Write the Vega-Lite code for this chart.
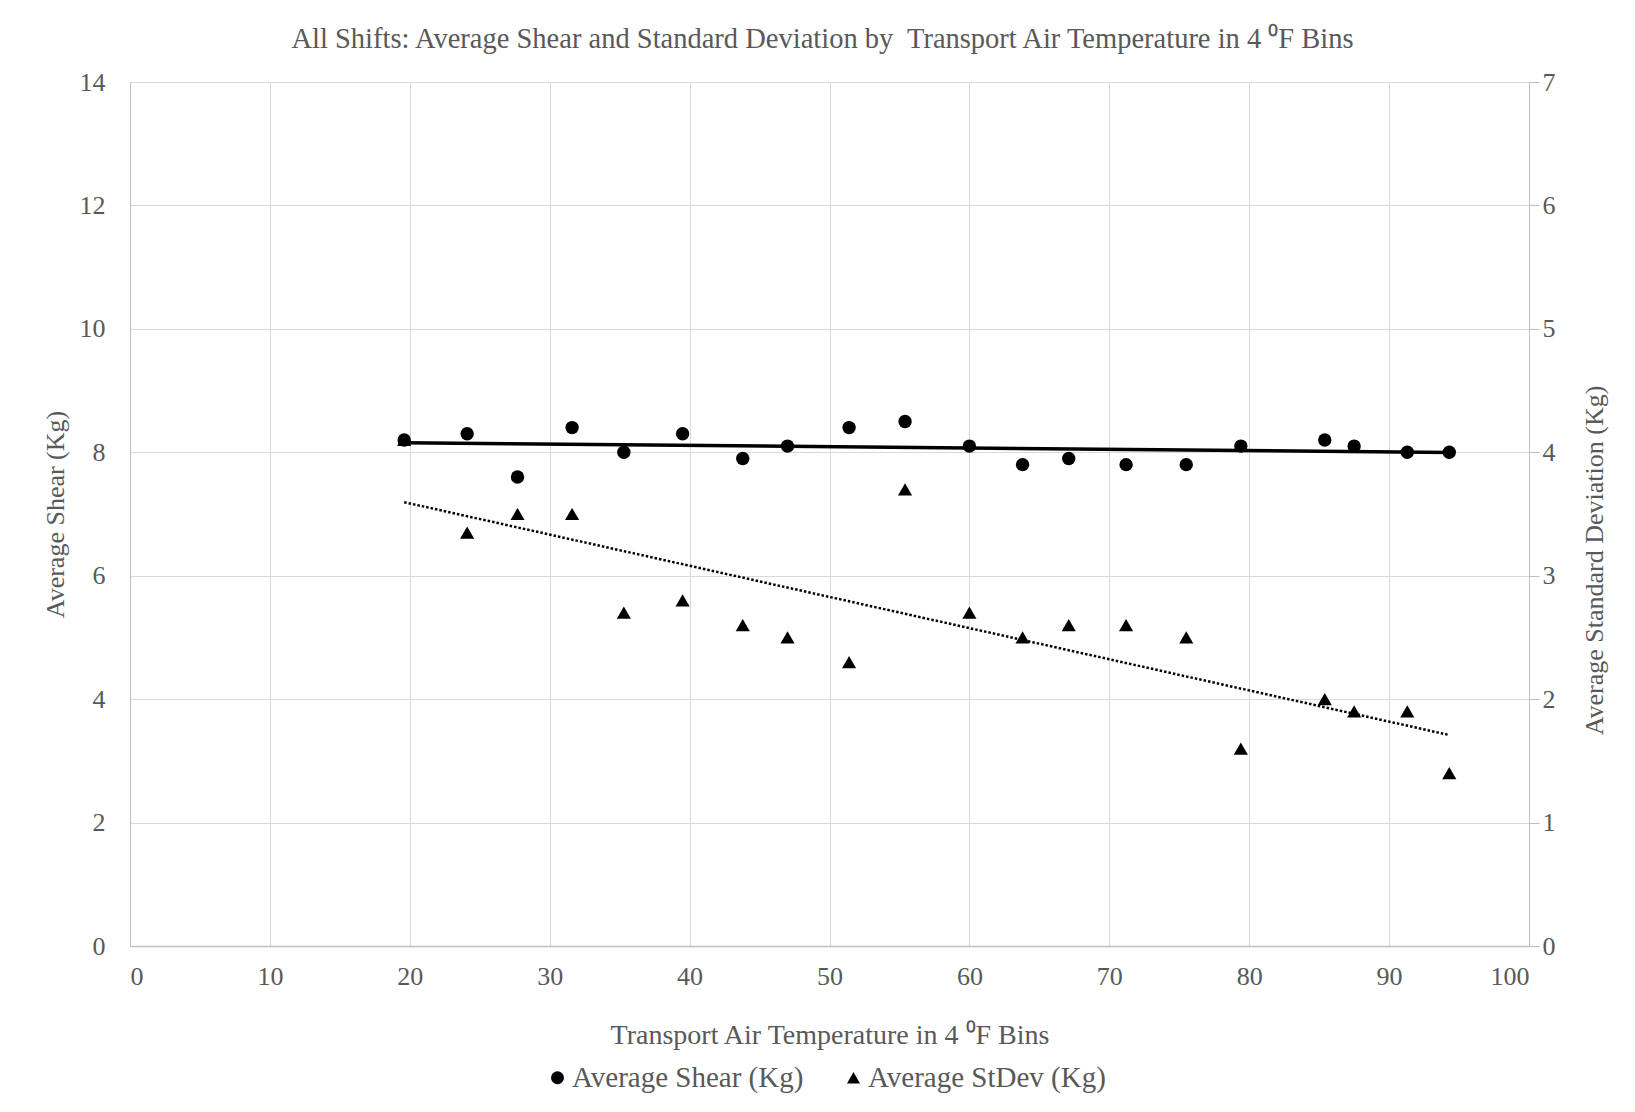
{
  "$schema": "https://vega.github.io/schema/vega-lite/v6.json",
  "width": 1399,
  "height": 864,
  "autosize": {"type": "none"},
  "padding": {"left": 130, "top": 82, "right": 106, "bottom": 166},
  "background": "white",
  "title": {
    "text": "All Shifts: Average Shear and Standard Deviation by\u00a0 Transport Air Temperature in 4 ⁰F Bins",
    "font": "Liberation Serif",
    "fontSize": 28.5,
    "fontWeight": "normal",
    "color": "#595959",
    "anchor": "middle",
    "offset": 16,
    "dx": -7
  },
  "data": {
    "values": [
      {"temp": 19.6, "shear": 8.2, "stdev": 4.1},
      {"temp": 24.1, "shear": 8.3, "stdev": 3.35},
      {"temp": 27.7, "shear": 7.6, "stdev": 3.5},
      {"temp": 31.6, "shear": 8.4, "stdev": 3.5},
      {"temp": 35.3, "shear": 8.0, "stdev": 2.7},
      {"temp": 39.5, "shear": 8.3, "stdev": 2.8},
      {"temp": 43.8, "shear": 7.9, "stdev": 2.6},
      {"temp": 47.0, "shear": 8.1, "stdev": 2.5},
      {"temp": 51.4, "shear": 8.4, "stdev": 2.3},
      {"temp": 55.4, "shear": 8.5, "stdev": 3.7},
      {"temp": 60.0, "shear": 8.1, "stdev": 2.7},
      {"temp": 63.8, "shear": 7.8, "stdev": 2.5},
      {"temp": 67.1, "shear": 7.9, "stdev": 2.6},
      {"temp": 71.2, "shear": 7.8, "stdev": 2.6},
      {"temp": 75.5, "shear": 7.8, "stdev": 2.5},
      {"temp": 79.4, "shear": 8.1, "stdev": 1.6},
      {"temp": 85.4, "shear": 8.2, "stdev": 2.0},
      {"temp": 87.5, "shear": 8.1, "stdev": 1.9},
      {"temp": 91.3, "shear": 8.0, "stdev": 1.9},
      {"temp": 94.3, "shear": 8.0, "stdev": 1.4}
    ]
  },
  "encoding": {
    "x": {
      "field": "temp",
      "type": "quantitative",
      "scale": {"domain": [0, 100], "nice": false, "zero": false},
      "axis": {
        "title": "Transport Air Temperature in 4 ⁰F Bins",
        "titleFontSize": 28,
        "values": [0, 10, 20, 30, 40, 50, 60, 70, 80, 90, 100],
        "ticks": false,
        "labelPadding": 17,
        "titlePadding": 32,
        "domainColor": "#bfbfbf",
        "domainWidth": 1.5,
        "gridColor": "#d9d9d9",
        "gridWidth": 1
      }
    }
  },
  "layer": [
    {
      "encoding": {
        "y": {
          "field": "shear",
          "type": "quantitative",
          "scale": {"domain": [0, 14], "nice": false},
          "axis": {
            "title": "Average Shear (Kg)",
            "orient": "left",
            "values": [0, 2, 4, 6, 8, 10, 12, 14],
            "ticks": false,
            "labelPadding": 25,
            "titlePadding": 11,
            "domainColor": "#bfbfbf",
            "gridColor": "#d9d9d9",
            "gridWidth": 1
          }
        }
      },
      "layer": [
        {
          "mark": {"type": "point", "filled": true, "color": "black", "size": 180, "opacity": 1},
          "encoding": {
            "shape": {
              "datum": "Average Shear (Kg)",
              "type": "nominal",
              "scale": {
                "domain": ["Average Shear (Kg)", "Average StDev (Kg)"],
                "range": ["circle", "triangle-up"]
              },
              "legend": {
                "title": null,
                "orient": "none",
                "direction": "horizontal",
                "legendX": 413,
                "legendY": 981,
                "symbolFillColor": "black",
                "symbolStrokeColor": "black",
                "symbolStrokeWidth": 0,
                "symbolSize": 170,
                "symbolOpacity": 1,
                "labelFont": "Liberation Serif",
                "labelFontSize": 29,
                "labelColor": "#595959",
                "labelLimit": 0,
                "labelOffset": 0,
                "columnPadding": 35,
                "symbolOffset": 0
              }
            }
          }
        },
        {
          "transform": [{"regression": "shear", "on": "temp"}],
          "mark": {"type": "line", "color": "black", "strokeWidth": 3.5},
          "encoding": {}
        }
      ]
    },
    {
      "encoding": {
        "y": {
          "field": "stdev",
          "type": "quantitative",
          "scale": {"domain": [0, 7], "nice": false},
          "axis": {
            "title": "Average Standard Deviation (Kg)",
            "orient": "right",
            "titleAngle": 270,
            "titleY": 478,
            "values": [0, 1, 2, 3, 4, 5, 6, 7],
            "grid": false,
            "ticks": true,
            "tickSize": 10,
            "tickColor": "#bfbfbf",
            "labelPadding": 3,
            "titlePadding": 52,
            "domainColor": "#bfbfbf"
          }
        }
      },
      "layer": [
        {
          "mark": {"type": "point", "filled": true, "color": "black", "size": 200, "opacity": 1},
          "encoding": {
            "shape": {"datum": "Average StDev (Kg)", "type": "nominal"}
          }
        },
        {
          "transform": [{"regression": "stdev", "on": "temp"}],
          "mark": {"type": "line", "color": "black", "strokeWidth": 2.5, "strokeDash": [2.5, 2], "strokeCap": "butt"},
          "encoding": {}
        }
      ]
    }
  ],
  "resolve": {"scale": {"y": "independent"}},
  "config": {
    "view": {"stroke": null},
    "axis": {
      "labelFont": "Liberation Serif",
      "labelFontSize": 26,
      "labelColor": "#595959",
      "titleFont": "Liberation Serif",
      "titleFontSize": 26,
      "titleFontWeight": "normal",
      "titleColor": "#595959"
    }
  }
}
